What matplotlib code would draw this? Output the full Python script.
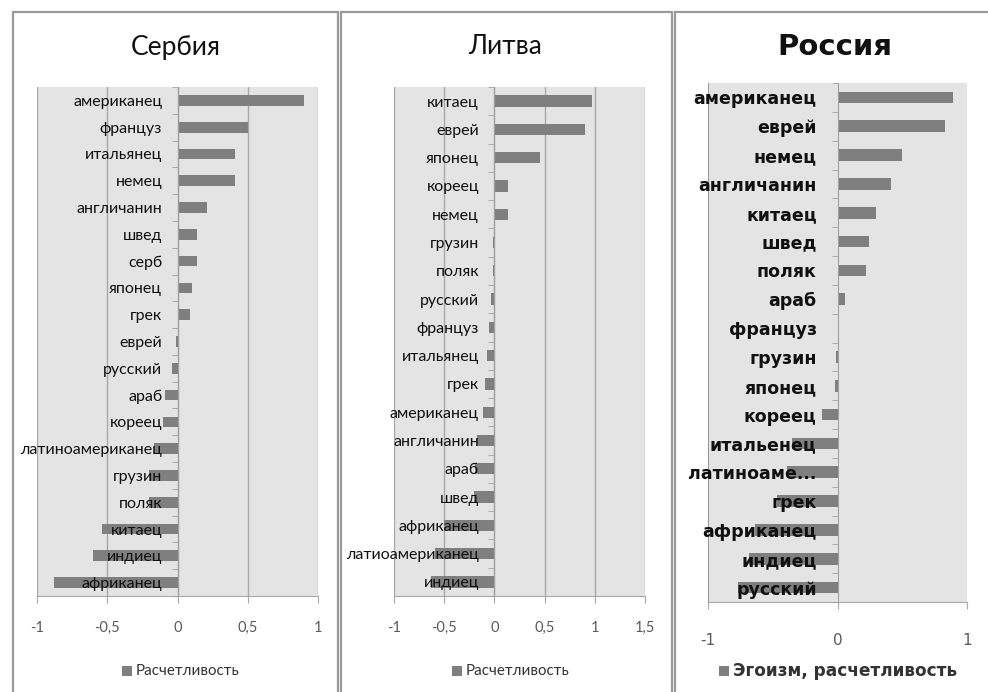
import matplotlib
matplotlib.use("Agg")
import matplotlib.pyplot as plt
from matplotlib.patches import Rectangle
from matplotlib.ticker import FixedLocator, FuncFormatter

# ---------------- data ----------------
serbia_cats = ["американец", "француз", "итальянец", "немец", "англичанин", "швед",
               "серб", "японец", "грек", "еврей", "русский", "араб", "кореец",
               "латиноамериканец", "грузин", "поляк", "китаец", "индиец", "африканец"]
serbia_vals = [0.90, 0.50, 0.41, 0.41, 0.21, 0.14, 0.14, 0.10, 0.09, -0.01, -0.04,
               -0.09, -0.10, -0.17, -0.20, -0.20, -0.54, -0.60, -0.88]

lithuania_cats = ["китаец", "еврей", "японец", "кореец", "немец", "грузин", "поляк",
                  "русский", "француз", "итальянец", "грек", "американец", "англичанин",
                  "араб", "швед", "африканец", "латиоамериканец", "индиец"]
lithuania_vals = [0.97, 0.90, 0.45, 0.14, 0.14, -0.01, -0.01, -0.035, -0.05, -0.07,
                  -0.09, -0.11, -0.17, -0.19, -0.20, -0.50, -0.59, -0.63]

russia_cats = ["американец", "еврей", "немец", "англичанин", "китаец", "швед", "поляк",
               "араб", "француз", "грузин", "японец", "кореец", "итальенец",
               "латиноаме...", "грек", "африканец", "индиец", "русский"]
russia_vals = [0.89, 0.83, 0.50, 0.41, 0.30, 0.24, 0.22, 0.055, 0.0, -0.01, -0.02,
               -0.12, -0.35, -0.39, -0.47, -0.64, -0.68, -0.77]

serbia_ticks = [-1, -0.5, 0, 0.5, 1]
lithuania_ticks = [-1, -0.5, 0, 0.5, 1, 1.5]
russia_ticks = [-1, 0, 1]

titles = ["Сербия", "Литва", "Россия"]
legend_labels = ["Расчетливость", "Расчетливость", "Эгоизм, расчетливость"]

# ---------------- figure ----------------
W, H = 988, 692
fig = plt.figure(figsize=(W / 100, H / 100), dpi=100)
fig.patch.set_facecolor("white")

def fx(px):
    return px / W

def fy(py):
    return 1 - py / H

# panel frames
for x0, x1 in [(13, 338), (341, 672), (675, 992)]:
    fig.patches.append(Rectangle((fx(x0), fy(700)), fx(x1 - x0), (700 - 12) / H,
                                 transform=fig.transFigure, facecolor="none",
                                 edgecolor="#9a9a9a", linewidth=1.6, zorder=0))

BAR = "#7f7f7f"
BG = "#e4e4e4"
GRID = "#a8a8a8"

def comma(v, pos=None):
    return ("%g" % v).replace(".", ",")

def panel(rect_px, cats, vals, ticks, title, title_xy, legend_label, legend_xy,
          bold=False, lab_fs=11.5, tick_fs=10.5, title_fs=19, grid_all=True,
          lab_pad=11, leg_fs=10.9, xpad=13):
    l, t, r, b = rect_px
    ax = fig.add_axes([fx(l), fy(b), fx(r - l), (b - t) / H])
    n = len(cats)
    y = list(range(n))
    ax.set_facecolor(BG)
    ax.barh(y, vals, height=0.4, color=BAR, zorder=1)
    ax.set_ylim(n - 0.5, -0.5)
    ax.set_xlim(ticks[0], ticks[-1])
    ax.xaxis.set_major_locator(FixedLocator(ticks))
    ax.xaxis.set_major_formatter(FuncFormatter(comma))
    if grid_all:
        ax.grid(axis="x", color=GRID, linewidth=1.0)
    else:
        ax.axvline(ticks[0], color="#909090", linewidth=1.3, zorder=0.5)
    ax.set_axisbelow(True)
    ax.yaxis.set_zorder(5)
    for s in ["top", "right"]:
        ax.spines[s].set_visible(False)
    ax.spines["bottom"].set_color(GRID)
    ax.spines["left"].set_position(("data", 0))
    ax.spines["left"].set_color("#a0a0a0")
    ax.spines["left"].set_zorder(3)
    ax.set_yticks(y)
    fam = ["DejaVu Sans"] if bold else ["Lato", "DejaVu Sans"]
    ax.set_yticklabels(cats, fontsize=lab_fs, family=fam,
                       fontweight="bold" if bold else "normal", color="#101010")
    ax.tick_params(axis="y", which="major", length=0, pad=lab_pad)
    ax.set_yticks([i + 0.5 for i in range(-1, n)], minor=True)
    ax.tick_params(axis="y", which="minor", length=4, color="#a0a0a0", direction="out")
    ax.tick_params(axis="x", length=5, color=GRID, pad=xpad,
                   labelsize=tick_fs, labelcolor="#5a5a5a")
    for lab in ax.get_xticklabels():
        lab.set_family(fam)
    fig.text(fx(title_xy[0]), fy(title_xy[1]), title, ha="center", va="center",
             fontsize=title_fs, family=fam, fontweight="bold" if bold else "normal",
             color="#111111")
    # legend
    fig.patches.append(Rectangle((fx(legend_xy[0]), fy(legend_xy[1] + 5)), fx(10), 10 / H,
                                 transform=fig.transFigure, facecolor=BAR,
                                 edgecolor="none"))
    fig.text(fx(legend_xy[0] + 14), fy(legend_xy[1]), legend_label, ha="left",
             va="center", fontsize=leg_fs, family=fam,
             fontweight="bold" if bold else "normal", color="#333333")
    return ax

panel((37, 87, 318, 596), serbia_cats, serbia_vals, serbia_ticks, titles[0],
      (176, 47), legend_labels[0], (122, 671))
panel((394, 87, 645, 596), lithuania_cats, lithuania_vals, lithuania_ticks, titles[1],
      (505, 47), legend_labels[1], (452, 671))
panel((708, 83, 967, 602), russia_cats, russia_vals, russia_ticks, titles[2],
      (835, 47), legend_labels[2], (719, 671), bold=True, lab_fs=12.5, tick_fs=11,
      title_fs=21, grid_all=False, lab_pad=15, leg_fs=12.2, xpad=17)

fig.savefig("out.png", dpi=100)
